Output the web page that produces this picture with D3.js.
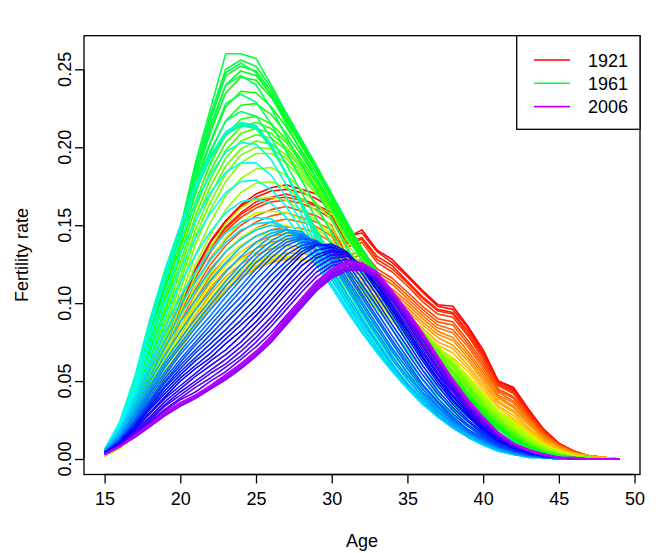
<!DOCTYPE html>
<html><head><meta charset="utf-8">
<script src="https://cdn.jsdelivr.net/npm/d3@7"></script>
<style>body{margin:0;background:#fff}svg{display:block}text{font-family:"Liberation Sans",Arial,Helvetica,sans-serif}</style>
</head><body><svg id="c" width="665" height="553"></svg>
<script>
const ages = [15,16,17,18,19,20,21,22,23,24,25,26,27,28,29,30,31,32,33,34,35,36,37,38,39,40,41,42,43,44,45,46,47,48,49];
const years = [1921,1922,1923,1924,1925,1926,1927,1928,1929,1930,1931,1932,1933,1934,1935,1936,1937,1938,1939,1940,
1941,1942,1943,1944,1945,1946,1947,1948,1949,1950,1951,1952,1953,1954,1955,1956,1957,1958,1959,1960,
1961,1962,1963,1964,1965,1966,1967,1968,1969,1970,1971,1972,1973,1974,1975,1976,1977,1978,1979,1980,
1981,1982,1983,1984,1985,1986,1987,1988,1989,1990,1991,1992,1993,1994,1995,1996,1997,1998,1999,2000,
2001,2002,2003,2004,2005,2006];
const xTicks = [15,20,25,30,35,40,45,50];
const yTicks = [0,0.05,0.10,0.15,0.20,0.25];
const legendYears = [1921,1961,2006];
// fertility rate by year (rows) and age 15..49 (columns)
const rates = [
[.003,.010,.026,.050,.078,.102,.122,.140,.153,.163,.170,.174,.176,.173,.170,.164,.142,.147,.134,.128,.118,.108,.099,.098,.085,.070,.050,.046,.032,.019,.010,.005,.002,.001,.000],
[.003,.010,.026,.049,.077,.101,.121,.139,.152,.162,.168,.172,.173,.171,.167,.161,.143,.145,.133,.126,.117,.107,.098,.096,.084,.068,.050,.045,.031,.019,.010,.005,.002,.001,.000],
[.003,.010,.025,.048,.076,.099,.119,.136,.149,.158,.165,.168,.170,.167,.163,.158,.139,.142,.130,.124,.114,.104,.096,.094,.082,.067,.049,.044,.030,.018,.010,.005,.002,.001,.000],
[.003,.010,.025,.048,.075,.098,.118,.135,.148,.157,.163,.167,.168,.166,.162,.156,.138,.141,.128,.122,.113,.103,.095,.093,.080,.066,.048,.043,.030,.018,.009,.005,.002,.001,.000],
[.003,.010,.025,.047,.074,.097,.116,.133,.146,.155,.161,.165,.166,.164,.160,.154,.136,.139,.126,.120,.111,.101,.093,.091,.079,.064,.047,.042,.029,.017,.009,.005,.002,.001,.000],
[.003,.009,.024,.046,.072,.094,.112,.129,.141,.150,.156,.160,.162,.159,.156,.150,.130,.134,.122,.116,.107,.098,.090,.088,.076,.062,.045,.040,.028,.017,.009,.004,.002,.001,.000],
[.003,.009,.023,.045,.070,.091,.109,.125,.137,.146,.152,.156,.158,.155,.152,.147,.128,.131,.120,.114,.105,.096,.088,.086,.074,.060,.044,.039,.027,.016,.009,.004,.002,.001,.000],
[.003,.009,.023,.043,.067,.088,.106,.122,.133,.142,.148,.152,.154,.152,.149,.143,.126,.128,.118,.112,.103,.094,.086,.083,.072,.058,.043,.037,.026,.016,.009,.004,.002,.001,.000],
[.003,.008,.022,.042,.065,.085,.102,.118,.129,.137,.143,.147,.149,.148,.145,.139,.123,.125,.115,.109,.101,.092,.084,.081,.069,.056,.041,.036,.025,.015,.008,.004,.002,.001,.000],
[.003,.008,.021,.040,.062,.082,.099,.114,.125,.133,.139,.143,.145,.144,.141,.136,.121,.122,.113,.107,.099,.090,.082,.078,.067,.054,.040,.034,.024,.014,.008,.004,.002,.001,.000],
[.003,.008,.020,.039,.060,.079,.096,.110,.121,.129,.135,.139,.141,.140,.137,.133,.119,.119,.111,.105,.097,.088,.080,.076,.065,.052,.039,.033,.023,.013,.008,.004,.002,.001,.000],
[.003,.008,.020,.037,.057,.076,.092,.106,.117,.125,.131,.135,.137,.136,.134,.129,.117,.116,.109,.102,.095,.086,.078,.073,.063,.050,.037,.031,.022,.013,.007,.004,.002,.001,.000],
[.002,.007,.019,.036,.055,.073,.089,.102,.112,.120,.126,.130,.132,.132,.130,.125,.114,.113,.106,.100,.092,.084,.075,.071,.060,.048,.036,.030,.020,.012,.007,.003,.001,.001,.000],
[.002,.007,.018,.034,.052,.070,.085,.098,.108,.116,.122,.126,.128,.128,.126,.122,.112,.110,.104,.097,.090,.082,.073,.068,.058,.046,.034,.028,.019,.011,.006,.003,.001,.001,.000],
[.002,.007,.018,.034,.053,.071,.086,.099,.109,.117,.123,.127,.129,.128,.126,.121,.111,.109,.102,.095,.088,.080,.071,.065,.056,.044,.033,.026,.018,.010,.006,.003,.001,.001,.000],
[.002,.007,.018,.035,.053,.072,.087,.100,.111,.119,.124,.128,.129,.128,.126,.121,.110,.107,.101,.093,.086,.078,.069,.063,.053,.042,.031,.025,.017,.010,.005,.003,.001,.000,.000],
[.002,.007,.019,.035,.054,.072,.088,.102,.112,.120,.126,.129,.130,.129,.126,.120,.110,.106,.099,.091,.084,.075,.067,.060,.051,.040,.029,.023,.016,.009,.005,.002,.001,.000,.000],
[.002,.007,.019,.036,.054,.073,.089,.103,.114,.122,.127,.130,.131,.129,.125,.120,.109,.104,.097,.090,.082,.073,.064,.057,.048,.038,.027,.021,.015,.008,.004,.002,.001,.000,.000],
[.002,.007,.019,.036,.055,.074,.090,.104,.115,.123,.128,.131,.131,.129,.125,.119,.108,.103,.096,.088,.080,.071,.062,.055,.046,.036,.026,.020,.014,.008,.004,.002,.001,.000,.000],
[.002,.007,.019,.037,.057,.077,.094,.108,.120,.128,.133,.136,.136,.133,.129,.123,.112,.107,.100,.091,.083,.074,.065,.057,.048,.038,.027,.021,.015,.008,.004,.002,.001,.000,.000],
[.002,.007,.020,.038,.059,.080,.098,.112,.124,.133,.138,.141,.141,.138,.134,.127,.116,.111,.103,.094,.086,.077,.067,.060,.050,.039,.029,.022,.015,.009,.005,.002,.001,.000,.000],
[.002,.007,.020,.039,.061,.082,.101,.116,.129,.137,.143,.145,.145,.142,.138,.131,.120,.114,.107,.097,.089,.079,.070,.062,.052,.041,.030,.023,.016,.009,.005,.002,.001,.000,.000],
[.002,.007,.020,.040,.063,.085,.105,.120,.133,.142,.148,.150,.150,.147,.142,.135,.124,.118,.110,.100,.092,.082,.072,.064,.053,.042,.031,.024,.016,.009,.005,.002,.001,.000,.000],
[.002,.007,.021,.042,.066,.090,.112,.128,.142,.152,.158,.159,.158,.154,.148,.140,.127,.120,.112,.101,.092,.082,.072,.063,.052,.041,.030,.023,.015,.008,.005,.002,.001,.000,.000],
[.002,.007,.022,.043,.069,.094,.118,.136,.151,.161,.167,.168,.166,.160,.153,.144,.130,.123,.113,.102,.093,.082,.071,.062,.051,.040,.029,.022,.014,.008,.004,.002,.001,.000,.000],
[.002,.008,.022,.045,.072,.099,.125,.144,.160,.171,.177,.178,.174,.167,.159,.149,.134,.125,.115,.104,.093,.082,.071,.062,.050,.038,.028,.020,.013,.007,.004,.001,.001,.000,.000],
[.002,.008,.023,.046,.075,.103,.131,.152,.169,.180,.186,.187,.182,.173,.164,.153,.137,.128,.116,.105,.094,.082,.070,.061,.049,.037,.027,.019,.012,.007,.003,.001,.001,.000,.000],
[.002,.008,.024,.048,.078,.108,.138,.160,.178,.190,.196,.196,.190,.180,.170,.158,.140,.130,.118,.106,.094,.082,.070,.060,.048,.036,.026,.018,.011,.006,.003,.001,.001,.000,.000],
[.002,.009,.026,.051,.082,.113,.143,.165,.183,.195,.200,.199,.193,.182,.171,.159,.141,.130,.118,.106,.093,.081,.069,.059,.047,.035,.025,.017,.011,.006,.003,.001,.001,.000,.000],
[.002,.009,.027,.053,.085,.117,.147,.170,.188,.199,.204,.202,.195,.184,.173,.159,.142,.130,.118,.105,.093,.080,.068,.057,.046,.034,.024,.017,.010,.005,.003,.001,.001,.000,.000],
[.003,.010,.029,.056,.089,.122,.152,.175,.193,.204,.208,.206,.198,.186,.174,.160,.143,.130,.118,.105,.092,.080,.067,.056,.045,.033,.024,.016,.010,.005,.003,.001,.001,.000,.000],
[.003,.011,.030,.059,.093,.126,.156,.180,.198,.209,.212,.209,.200,.188,.175,.161,.143,.130,.117,.104,.091,.079,.066,.055,.043,.032,.023,.015,.009,.005,.002,.001,.000,.000,.000],
[.003,.011,.032,.061,.096,.131,.161,.185,.203,.213,.216,.212,.203,.190,.177,.161,.144,.130,.117,.104,.091,.078,.065,.053,.042,.031,.022,.015,.009,.004,.002,.001,.000,.000,.000],
[.003,.012,.033,.064,.100,.135,.165,.190,.208,.218,.220,.215,.205,.192,.178,.162,.145,.130,.117,.103,.090,.077,.064,.052,.041,.030,.021,.014,.008,.004,.002,.001,.000,.000,.000],
[.003,.013,.035,.068,.104,.138,.170,.197,.217,.227,.228,.221,.209,.195,.180,.164,.147,.131,.118,.103,.090,.077,.063,.051,.040,.030,.021,.014,.008,.004,.002,.001,.000,.000,.000],
[.003,.014,.038,.071,.108,.142,.175,.203,.226,.236,.235,.226,.213,.198,.183,.166,.148,.133,.118,.104,.090,.076,.063,.051,.040,.029,.020,.013,.008,.004,.002,.001,.000,.000,.000],
[.003,.015,.040,.075,.112,.145,.180,.210,.235,.245,.243,.232,.217,.201,.185,.168,.150,.134,.119,.104,.090,.076,.062,.050,.039,.029,.020,.013,.008,.004,.002,.001,.000,.000,.000],
[.003,.016,.041,.077,.113,.146,.183,.214,.240,.249,.246,.234,.218,.202,.186,.169,.151,.134,.119,.104,.090,.075,.061,.049,.039,.028,.020,.013,.008,.004,.002,.001,.000,.000,.000],
[.004,.016,.042,.079,.115,.146,.185,.218,.246,.252,.249,.236,.219,.203,.186,.169,.151,.135,.120,.104,.089,.075,.061,.049,.038,.028,.020,.013,.007,.004,.002,.001,.000,.000,.000],
[.004,.017,.044,.081,.116,.147,.188,.221,.250,.256,.252,.238,.221,.204,.187,.170,.152,.135,.120,.104,.089,.074,.060,.048,.038,.028,.019,.012,.007,.004,.002,.001,.000,.000,.000],
[.004,.018,.045,.083,.118,.148,.190,.225,.260,.260,.257,.240,.222,.205,.188,.170,.152,.135,.120,.104,.088,.074,.060,.048,.037,.028,.019,.012,.007,.004,.002,.001,.000,.000,.000],
[.004,.018,.046,.084,.118,.147,.185,.218,.248,.254,.248,.233,.215,.197,.180,.162,.144,.127,.112,.097,.082,.068,.055,.044,.034,.025,.017,.011,.006,.003,.002,.001,.000,.000,.000],
[.004,.019,.047,.085,.119,.147,.182,.212,.240,.246,.240,.225,.207,.189,.172,.154,.136,.120,.105,.091,.077,.063,.051,.040,.031,.023,.015,.010,.006,.003,.001,.001,.000,.000,.000],
[.004,.019,.047,.085,.118,.146,.178,.204,.228,.234,.229,.215,.197,.179,.162,.145,.127,.111,.097,.083,.070,.057,.046,.036,.027,.020,.013,.008,.005,.002,.001,.000,.000,.000,.000],
[.005,.020,.048,.085,.118,.145,.175,.198,.217,.223,.220,.206,.189,.171,.154,.137,.119,.103,.089,.076,.063,.051,.041,.032,.024,.017,.011,.007,.004,.002,.001,.000,.000,.000,.000],
[.005,.020,.048,.085,.118,.145,.172,.193,.208,.214,.212,.200,.183,.165,.147,.130,.113,.097,.083,.070,.058,.047,.037,.029,.022,.016,.010,.006,.004,.002,.001,.000,.000,.000,.000],
[.005,.021,.049,.086,.119,.146,.173,.193,.208,.214,.212,.200,.183,.164,.146,.128,.111,.095,.081,.068,.056,.045,.035,.028,.021,.015,.009,.006,.004,.002,.001,.000,.000,.000,.000],
[.005,.022,.050,.087,.120,.147,.173,.194,.209,.215,.213,.201,.183,.164,.144,.126,.109,.092,.078,.065,.053,.043,.034,.026,.019,.014,.009,.005,.003,.002,.001,.000,.000,.000,.000],
[.006,.022,.051,.088,.120,.148,.174,.194,.209,.215,.213,.201,.183,.163,.143,.124,.106,.090,.076,.063,.051,.041,.032,.025,.018,.013,.008,.005,.003,.001,.001,.000,.000,.000,.000],
[.006,.023,.052,.089,.121,.149,.174,.195,.209,.215,.213,.201,.183,.163,.141,.122,.104,.087,.073,.060,.049,.039,.030,.023,.017,.012,.007,.004,.002,.001,.001,.000,.000,.000,.000],
[.006,.024,.053,.090,.122,.150,.175,.195,.210,.216,.214,.202,.183,.162,.140,.120,.102,.085,.071,.058,.047,.037,.029,.022,.016,.011,.007,.004,.002,.001,.001,.000,.000,.000,.000],
[.006,.023,.050,.085,.115,.141,.164,.183,.197,.203,.202,.192,.176,.157,.137,.118,.100,.084,.070,.057,.046,.036,.028,.021,.015,.010,.006,.004,.002,.001,.001,.000,.000,.000,.000],
[.006,.022,.048,.079,.107,.132,.153,.171,.184,.190,.190,.182,.168,.152,.134,.117,.100,.085,.071,.059,.048,.038,.029,.022,.016,.011,.007,.004,.002,.001,.001,.000,.000,.000,.000],
[.006,.022,.045,.074,.100,.122,.142,.158,.171,.178,.179,.173,.162,.147,.131,.115,.099,.084,.070,.058,.047,.037,.028,.021,.015,.010,.006,.003,.002,.001,.000,.000,.000,.000,.000],
[.006,.021,.043,.068,.092,.113,.131,.146,.158,.165,.167,.164,.155,.142,.127,.112,.097,.082,.069,.057,.046,.036,.027,.020,.014,.009,.005,.003,.001,.001,.000,.000,.000,.000,.000],
[.006,.020,.040,.063,.085,.104,.120,.134,.145,.152,.155,.154,.148,.137,.124,.110,.095,.081,.068,.056,.045,.035,.027,.020,.014,.009,.005,.003,.001,.001,.000,.000,.000,.000,.000],
[.006,.019,.038,.060,.081,.099,.114,.128,.139,.147,.151,.152,.148,.139,.127,.112,.097,.082,.069,.057,.046,.036,.027,.020,.014,.009,.005,.003,.001,.001,.000,.000,.000,.000,.000],
[.006,.018,.036,.057,.076,.093,.108,.121,.133,.141,.147,.150,.148,.141,.129,.115,.100,.085,.071,.058,.047,.036,.028,.020,.014,.010,.006,.003,.001,.001,.000,.000,.000,.000,.000],
[.005,.017,.034,.053,.072,.088,.102,.115,.126,.136,.143,.147,.147,.143,.132,.118,.103,.088,.074,.060,.048,.038,.029,.021,.015,.010,.006,.003,.002,.001,.000,.000,.000,.000,.000],
[.005,.016,.032,.050,.067,.082,.096,.108,.120,.130,.139,.145,.147,.144,.134,.121,.106,.090,.075,.061,.048,.038,.028,.021,.015,.010,.006,.003,.002,.001,.000,.000,.000,.000,.000],
[.005,.015,.030,.047,.063,.077,.090,.102,.114,.125,.135,.143,.147,.146,.138,.125,.110,.094,.079,.064,.051,.040,.030,.022,.016,.011,.007,.004,.002,.001,.000,.000,.000,.000,.000],
[.005,.014,.029,.045,.061,.074,.087,.099,.111,.122,.132,.140,.145,.145,.138,.127,.112,.096,.081,.066,.053,.042,.031,.023,.017,.011,.007,.004,.002,.001,.000,.000,.000,.000,.000],
[.005,.014,.028,.043,.059,.072,.084,.096,.107,.118,.129,.137,.143,.144,.139,.128,.114,.099,.084,.069,.055,.043,.033,.024,.017,.012,.007,.004,.002,.001,.000,.000,.000,.000,.000],
[.004,.013,.026,.042,.056,.069,.081,.092,.104,.115,.126,.134,.141,.143,.139,.130,.116,.101,.086,.071,.058,.045,.034,.025,.018,.012,.008,.005,.002,.001,.001,.000,.000,.000,.000],
[.004,.013,.025,.040,.054,.067,.078,.089,.100,.111,.122,.132,.139,.142,.140,.131,.119,.104,.089,.074,.060,.047,.036,.026,.018,.013,.008,.005,.003,.001,.001,.000,.000,.000,.000],
[.004,.012,.024,.038,.052,.064,.075,.086,.097,.108,.119,.129,.137,.141,.140,.133,.121,.106,.091,.076,.062,.048,.037,.027,.019,.013,.008,.005,.003,.001,.001,.000,.000,.000,.000],
[.004,.012,.023,.037,.050,.062,.073,.083,.094,.104,.115,.125,.134,.139,.139,.134,.123,.109,.094,.079,.065,.051,.039,.029,.021,.014,.009,.005,.003,.001,.001,.000,.000,.000,.000],
[.004,.012,.023,.036,.049,.060,.070,.080,.090,.100,.111,.121,.131,.137,.139,.135,.126,.112,.098,.083,.068,.054,.042,.031,.022,.015,.009,.006,.003,.002,.001,.000,.000,.000,.000],
[.004,.011,.022,.035,.047,.058,.068,.077,.087,.097,.107,.118,.127,.135,.138,.136,.128,.116,.101,.086,.072,.057,.044,.033,.024,.016,.010,.006,.003,.002,.001,.000,.000,.000,.000],
[.004,.011,.022,.034,.046,.056,.065,.074,.083,.093,.103,.114,.124,.133,.138,.137,.131,.119,.105,.090,.075,.060,.047,.035,.025,.017,.011,.007,.004,.002,.001,.000,.000,.000,.000],
[.004,.011,.021,.033,.044,.054,.063,.071,.080,.089,.099,.110,.121,.131,.137,.138,.133,.122,.108,.093,.078,.063,.049,.037,.027,.018,.011,.007,.004,.002,.001,.000,.000,.000,.000],
[.004,.011,.020,.032,.042,.052,.060,.068,.077,.086,.095,.106,.117,.127,.134,.136,.132,.123,.109,.095,.080,.065,.051,.038,.028,.019,.012,.007,.004,.002,.001,.000,.000,.000,.000],
[.004,.010,.019,.030,.040,.050,.058,.065,.074,.082,.092,.102,.113,.124,.131,.134,.132,.123,.111,.096,.082,.066,.052,.040,.029,.020,.012,.007,.004,.002,.001,.000,.000,.000,.000],
[.003,.010,.019,.029,.039,.047,.055,.063,.070,.079,.088,.099,.110,.120,.129,.133,.131,.124,.112,.098,.083,.068,.054,.041,.030,.020,.013,.008,.005,.002,.001,.000,.000,.000,.000],
[.003,.009,.018,.027,.037,.045,.053,.060,.067,.075,.085,.095,.106,.117,.126,.131,.131,.124,.114,.099,.085,.070,.055,.043,.031,.021,.014,.008,.005,.002,.001,.000,.000,.000,.000],
[.003,.009,.017,.026,.035,.043,.050,.057,.064,.072,.081,.091,.102,.113,.123,.129,.130,.125,.115,.101,.087,.072,.057,.044,.032,.022,.014,.008,.005,.002,.001,.000,.000,.000,.000],
[.003,.009,.016,.025,.034,.041,.048,.055,.061,.069,.078,.088,.099,.110,.120,.126,.128,.124,.115,.102,.088,.073,.058,.045,.033,.023,.014,.008,.005,.002,.001,.000,.000,.000,.000],
[.003,.009,.016,.024,.032,.039,.046,.052,.059,.066,.075,.085,.096,.107,.117,.124,.126,.123,.115,.103,.089,.074,.059,.046,.034,.023,.015,.009,.005,.003,.001,.000,.000,.000,.000],
[.003,.008,.015,.023,.031,.038,.043,.050,.056,.064,.072,.081,.092,.103,.114,.121,.125,.122,.116,.103,.090,.076,.061,.047,.034,.024,.015,.009,.005,.003,.001,.000,.000,.000,.000],
[.003,.008,.015,.022,.029,.036,.041,.047,.054,.061,.069,.078,.089,.100,.111,.119,.123,.122,.116,.104,.091,.077,.062,.048,.035,.024,.016,.010,.005,.003,.001,.000,.000,.000,.000],
[.003,.008,.014,.021,.028,.034,.039,.045,.051,.058,.066,.075,.086,.097,.108,.116,.121,.121,.116,.105,.092,.078,.063,.049,.036,.025,.016,.010,.005,.003,.001,.000,.000,.000,.000],
[.003,.008,.014,.021,.028,.034,.039,.045,.051,.058,.066,.075,.087,.098,.109,.117,.122,.122,.117,.106,.093,.079,.064,.050,.036,.025,.016,.010,.005,.003,.001,.000,.000,.000,.000],
[.003,.008,.014,.021,.029,.035,.040,.046,.052,.059,.067,.076,.088,.099,.110,.118,.123,.123,.118,.106,.093,.079,.064,.050,.037,.026,.016,.010,.005,.003,.001,.000,.000,.000,.000],
[.003,.008,.015,.022,.029,.035,.040,.046,.053,.060,.068,.077,.089,.101,.112,.120,.125,.124,.119,.107,.094,.080,.065,.050,.037,.026,.017,.010,.006,.003,.001,.000,.000,.000,.000],
[.003,.008,.015,.022,.030,.036,.041,.047,.054,.061,.069,.078,.090,.102,.113,.121,.126,.125,.119,.107,.094,.080,.065,.051,.038,.027,.017,.010,.006,.003,.001,.001,.000,.000,.000],
[.003,.008,.015,.022,.030,.036,.041,.047,.054,.061,.069,.079,.091,.103,.114,.122,.127,.126,.120,.108,.095,.081,.066,.051,.038,.027,.017,.010,.006,.003,.001,.001,.000,.000,.000]
];

const svg = d3.select("#c");
const L = 84, R = 640, T = 35.7, B = 474.5;
const x = d3.scaleLinear().domain([13.64, 50.36]).range([L, R]);
const y = d3.scaleLinear().domain([-0.00994, 0.2716]).range([B, T]);
const nCol = Math.floor(years.length * 1.25);
const color = i => d3.hsl(360 * i / nCol, 1, 0.5).toString();
const FS = 18;

// curves
const line = d3.line().x((d, j) => x(ages[j])).y(d => y(d));
svg.append("g").selectAll("path").data(rates).join("path")
  .attr("d", line).attr("fill", "none")
  .attr("stroke", (d, i) => color(i)).attr("stroke-width", 1.6)
  .attr("stroke-linejoin", "round");

// box
svg.append("rect").attr("x", L).attr("y", T).attr("width", R - L).attr("height", B - T)
  .attr("fill", "none").attr("stroke", "#000").attr("stroke-width", 1.3);

// x axis
const gx = svg.append("g").attr("transform", `translate(0,${B})`)
  .call(d3.axisBottom(x).tickValues(xTicks).tickSize(9).tickPadding(9).tickFormat(d3.format("d")));
gx.select(".domain").attr("d", `M${x(15)},0H${x(50)}`).attr("stroke-width", 1.3);
gx.selectAll(".tick line").attr("stroke-width", 1.3);
gx.selectAll("text").attr("font-size", FS).attr("fill", "#000").attr("font-family", null);

// y axis
const gy = svg.append("g").attr("transform", `translate(${L},0)`)
  .call(d3.axisLeft(y).tickValues(yTicks).tickSize(9).tickFormat(""));
gy.select(".domain").attr("d", `M0,${y(0)}V${y(0.25)}`).attr("stroke-width", 1.3);
gy.selectAll(".tick line").attr("stroke-width", 1.3);
svg.append("g").selectAll("text").data(yTicks).join("text")
  .attr("transform", d => `translate(${L - 13},${y(d)}) rotate(-90)`)
  .attr("text-anchor", "middle").attr("font-size", FS)
  .text(d => d3.format(".2f")(d));

// axis titles
svg.append("text").attr("x", (L + R) / 2).attr("y", 547).attr("text-anchor", "middle")
  .attr("font-size", FS).text("Age");
svg.append("text").attr("transform", `translate(28,${(T + B) / 2}) rotate(-90)`)
  .attr("text-anchor", "middle").attr("font-size", FS).text("Fertility rate");

// legend
const lg = svg.append("g");
const lx = 516.7, ly = T, lw = R - lx, lh = 93.6;
lg.append("rect").attr("x", lx).attr("y", ly).attr("width", lw).attr("height", lh)
  .attr("fill", "#fff").attr("stroke", "#000").attr("stroke-width", 1.3);
legendYears.forEach((yr, k) => {
  const cy = 60 + k * 23.3;
  const idx = years.indexOf(yr);
  lg.append("line").attr("x1", 534).attr("x2", 570).attr("y1", cy).attr("y2", cy)
    .attr("stroke", color(idx)).attr("stroke-width", 1.6);
  lg.append("text").attr("x", 588).attr("y", cy + 6.5).attr("font-size", FS).text(yr);
});
</script></body></html>
